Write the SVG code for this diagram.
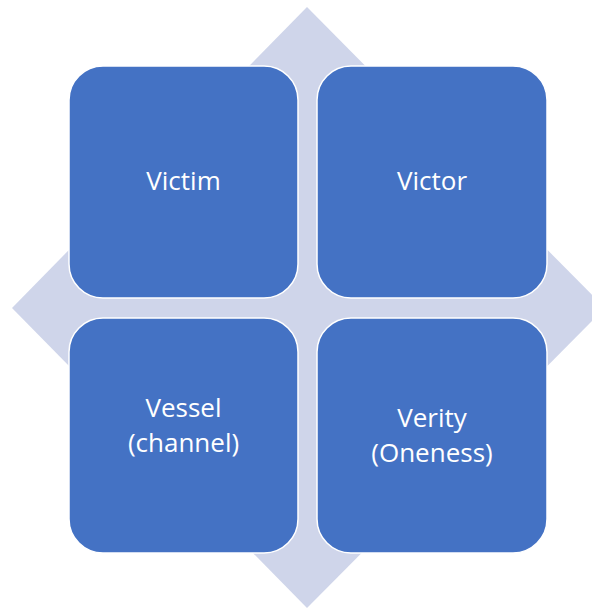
<svg xmlns="http://www.w3.org/2000/svg" width="592" height="609" viewBox="0 0 592 609">
<style>
.box{fill:#4472C4;stroke:#FFFFFF;stroke-width:1.5}
.lbl{fill:#FFFFFF;font-family:"Open Sans","Liberation Sans",sans-serif;font-size:26px;text-anchor:middle}
</style>
<rect width="592" height="609" fill="#FFFFFF"/>
<g id="backdrop">
<polygon points="307,7 605,308 307,608 12,308" fill="#CFD5EA"/>
</g>
<g id="victim">
<rect class="box" x="69" y="66" width="229" height="232" rx="34"/>
<text class="lbl" x="183.5" y="190">Victim</text>
</g>
<g id="victor">
<rect class="box" x="317" y="66" width="230" height="232" rx="34"/>
<text class="lbl" x="432" y="190">Victor</text>
</g>
<g id="vessel">
<rect class="box" x="69" y="318" width="229" height="235" rx="34"/>
<text class="lbl" x="183.5" y="417">Vessel</text>
<text class="lbl" x="183.5" y="452">(channel)</text>
</g>
<g id="verity">
<rect class="box" x="317" y="318" width="230" height="235" rx="34"/>
<text class="lbl" x="432" y="427">Verity</text>
<text class="lbl" x="432" y="462">(Oneness)</text>
</g>
<g id="connectors"/>
</svg>
